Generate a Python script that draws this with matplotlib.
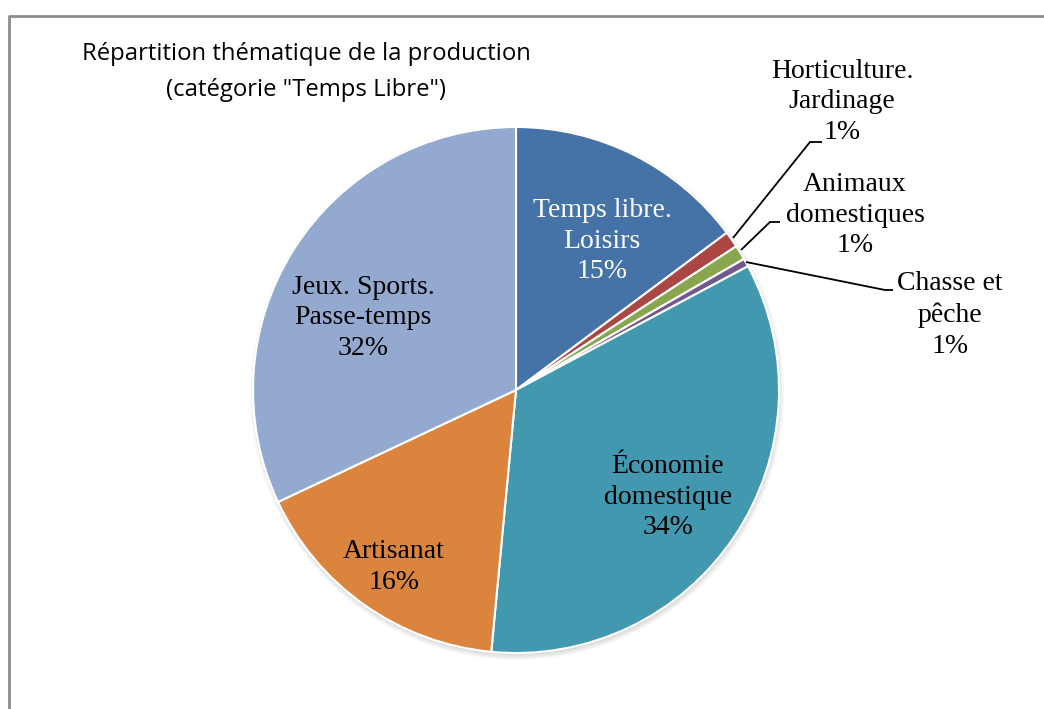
import numpy as np
import matplotlib
matplotlib.use("Agg")
from matplotlib import pyplot as plt
from matplotlib.patches import Circle

# Données du graphique (parts en %)
categories = ["Temps libre.\nLoisirs", "Horticulture.\nJardinage", "Animaux\ndomestiques",
              "Chasse et\npêche", "Économie\ndomestique", "Artisanat", "Jeux. Sports.\nPasse-temps"]
values = [14.8, 1.0, 0.9, 0.5, 34.3, 16.5, 32.0]
pct_labels = ["15%", "1%", "1%", "1%", "34%", "16%", "32%"]
colors = ["#4572A7", "#AA4643", "#89A54E", "#71588F", "#4198AF", "#DB843D", "#93A9CF"]

W, H = 1044, 709
fig = plt.figure(figsize=(W / 100, H / 100), dpi=100)
ax = fig.add_axes([0, 0, 1, 1])

cx, cy, r = 516, H - 390, 263

# Ombre légère sous le camembert
for k in range(6):
    ax.add_patch(Circle((cx + 1, cy - 3), r + 4 - k, color="black", alpha=0.025, lw=0, zorder=0))

wedges, _ = ax.pie(values, colors=colors, startangle=90, counterclock=False,
                   center=(cx, cy), radius=r, frame=True,
                   wedgeprops=dict(edgecolor="white", linewidth=1.5))
ax.set_xlim(0, W)
ax.set_ylim(0, H)
ax.set_aspect("equal")
ax.axis("off")

serif = ["Liberation Serif", "DejaVu Serif"]
fs = 20
ls = 1.3

# Étiquettes à l'intérieur des secteurs
inside = {0: (602, 241, "white"), 4: (668, 497, "black"), 5: (394, 567, "black"), 6: (363, 318, "black")}
for i, (x, y, c) in inside.items():
    ax.text(x, H - y, categories[i] + "\n" + pct_labels[i], ha="center", va="center",
            fontsize=fs, family=serif, color=c, linespacing=ls)

# Étiquettes extérieures avec lignes de rappel
outside = {1: ((842, 102), [(733, 238), (810, 142), (822, 142)]),
           2: ((855, 215), [(741, 250), (770, 222), (780, 222)]),
           3: ((950, 315), [(746, 262), (885, 290), (893, 290)])}
for i, ((x, y), pts) in outside.items():
    ax.text(x, H - y, categories[i] + "\n" + pct_labels[i], ha="center", va="center",
            fontsize=fs, family=serif, color="black", linespacing=ls)
    xs = [p[0] for p in pts]
    ys = [H - p[1] for p in pts]
    ax.plot(xs, ys, color="black", lw=1.3, solid_capstyle="butt")

# Titre
ax.text(306, H - 72, 'Répartition thématique de la production\n(catégorie "Temps Libre")',
        ha="center", va="center", fontsize=17.2, family=["Open Sans", "DejaVu Sans"],
        color="black", linespacing=1.62)

# Cadre du graphique
ax.plot([8.5, 8.5, W + 5], [-5, H - 15.5, H - 15.5], color="#8C8C8C", lw=2, clip_on=False)

fig.savefig("out.png", dpi=100)
